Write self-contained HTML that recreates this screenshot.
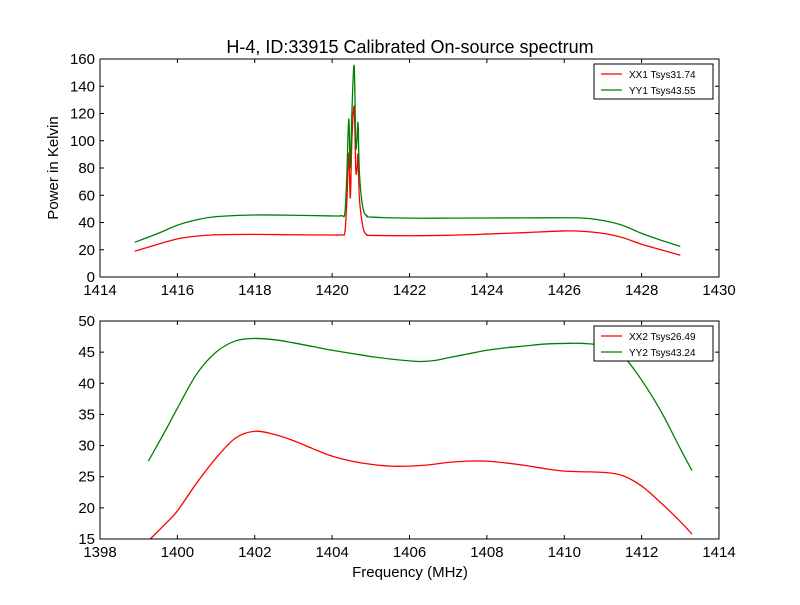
<!DOCTYPE html>
<html><head><meta charset="utf-8"><style>
body{margin:0;background:#fff}
svg{font-family:"Liberation Sans","DejaVu Sans",sans-serif}
</style></head><body>
<svg id="chart" width="800" height="600">
<rect width="800" height="600" fill="#fff"/>
<text x="410" y="53" font-size="18" text-anchor="middle">H-4, ID:33915 Calibrated On-source spectrum</text>
<text x="410" y="577" font-size="15" text-anchor="middle">Frequency (MHz)</text>
<text transform="translate(58,168) rotate(-90)" font-size="15" text-anchor="middle">Power in Kelvin</text>
<g id="top"></g>
<g id="bot"></g>
</svg>
<script>
const topXTicks=[1414,1416,1418,1420,1422,1424,1426,1428,1430];
const topYTicks=[0,20,40,60,80,100,120,140,160];
const botXTicks=[1398,1400,1402,1404,1406,1408,1410,1412,1414];
const botYTicks=[15,20,25,30,35,40,45,50];
const xx1Freq=[1414.9,1415.5,1416,1416.5,1417,1418,1419,1420,1420.25,1420.33,1420.38,1420.43,1420.47,1420.51,1420.57,1420.61,1420.64,1420.67,1420.7,1420.75,1420.82,1420.9,1421,1422,1423,1424,1425,1426,1426.5,1427,1427.5,1428,1428.5,1429];
const xx1Vals=[19,24,28,30,31,31.3,31,30.8,31,33,55,91,58,100,125,80,78,90,60,45,34,31,30.5,30.3,30.6,31.5,32.6,33.8,33.5,32,29,24,20,16];
const yy1Freq=[1414.9,1415.5,1416,1416.5,1417,1418,1419,1420,1420.25,1420.33,1420.38,1420.43,1420.47,1420.51,1420.57,1420.61,1420.64,1420.67,1420.7,1420.75,1420.82,1420.9,1421,1422,1423,1424,1425,1426,1426.5,1427,1427.5,1428,1428.5,1429];
const yy1Vals=[25.5,32,38,42,44.3,45.5,45.3,44.8,45,47,75,116,80,120,155,98,100,113,80,60,48,45,44,43.2,43.2,43.3,43.4,43.5,43.2,41.5,38,32,27,22.5];
const xx2Freq=[1399.3,1399.7,1400,1400.5,1401,1401.5,1402,1402.5,1403,1403.5,1404,1404.5,1405,1405.5,1406,1406.5,1407,1407.5,1408,1408.5,1409,1409.5,1410,1410.5,1411,1411.5,1412,1412.5,1413,1413.3];
const xx2Vals=[15,17.5,19.5,24,28,31.2,32.3,31.8,30.8,29.5,28.3,27.5,27,26.7,26.7,26.9,27.3,27.5,27.5,27.2,26.8,26.3,25.9,25.8,25.7,25.2,23.5,20.8,17.8,15.8];
const yy2Freq=[1399.25,1399.7,1400,1400.5,1401,1401.5,1402,1402.5,1403,1403.5,1404,1404.5,1405,1405.5,1406,1406.3,1406.7,1407,1407.5,1408,1408.5,1409,1409.5,1410,1410.5,1411,1411.5,1412,1412.5,1413,1413.3];
const yy2Vals=[27.5,32.5,36,41.5,45,46.8,47.2,47,46.5,45.9,45.3,44.8,44.3,43.9,43.6,43.5,43.7,44.1,44.7,45.3,45.7,46,46.3,46.4,46.4,46,44.5,40.5,35.5,29.5,26];
const NS='http://www.w3.org/2000/svg';
function mk(tag,attrs,parent,text){const e=document.createElementNS(NS,tag);for(const k in attrs)e.setAttribute(k,attrs[k]);if(text!==undefined)e.textContent=text;parent.appendChild(e);return e;}
function smooth(pts){
  let d='M'+pts[0][0].toFixed(2)+','+pts[0][1].toFixed(2);
  for(let i=0;i<pts.length-1;i++){
    const p0=pts[Math.max(0,i-1)],p1=pts[i],p2=pts[i+1],p3=pts[Math.min(pts.length-1,i+2)];
    const c1=[p1[0]+(p2[0]-p0[0])/6,p1[1]+(p2[1]-p0[1])/6];
    const c2=[p2[0]-(p3[0]-p1[0])/6,p2[1]-(p3[1]-p1[1])/6];
    d+=' C'+c1.map(v=>v.toFixed(2)).join(',')+' '+c2.map(v=>v.toFixed(2)).join(',')+' '+p2.map(v=>v.toFixed(2)).join(',');
  }
  return d;
}
function panel(g,top,x0,x1,y0,y1,xt,yt,series,legend,lx,ly){
  const L=100,R=719,B=top+218;
  const sx=v=>L+(v-x0)/(x1-x0)*(R-L), sy=v=>B-(v-y0)/(y1-y0)*(B-top);
  series.forEach(s=>{
    const pts=s.f.map((f,i)=>[sx(f),sy(s.v[i])]);
    const pl=mk('path',{d:smooth(pts),fill:'none',stroke:s.c,'stroke-width':1.3,'stroke-linejoin':'round'},g);
    
    
  });
  const fr=mk('rect',{x:L,y:top,width:R-L,height:B-top,fill:'none',stroke:'#000','stroke-width':1},g);
  
  
  xt.forEach(t=>{const x=sx(t);
    mk('line',{x1:x,x2:x,y1:B,y2:B-4,stroke:'#000'},g);mk('line',{x1:x,x2:x,y1:top,y2:top+4,stroke:'#000'},g);
    const tx=mk('text',{x:x,y:B+18,'font-size':15,'text-anchor':'middle'},g,t);
    
    });
  yt.forEach(t=>{const y=sy(t);
    mk('line',{x1:L,x2:L+4,y1:y,y2:y,stroke:'#000'},g);mk('line',{x1:R,x2:R-4,y1:y,y2:y,stroke:'#000'},g);
    const tx=mk('text',{x:L-5,y:y+5,'font-size':15,'text-anchor':'end'},g,t);
    
    });
  const lg=mk('g',{},g);
  
  
  mk('rect',{x:lx,y:ly,width:119,height:35,fill:'#fff',stroke:'#000'},lg);
  legend.forEach((l,i)=>{const y=ly+10+i*16;
    mk('line',{x1:lx+7,x2:lx+28,y1:y,y2:y,stroke:l.c,'stroke-width':1.3},lg);
    const tx=mk('text',{x:lx+35,y:y+4,'font-size':10},lg,l.t);
    
    });
}
panel(document.getElementById('top'),59,1414,1430,0,160,topXTicks,topYTicks,
 [{f:xx1Freq,v:xx1Vals,c:'#ff0000',name:'xx1'},{f:yy1Freq,v:yy1Vals,c:'#008000',name:'yy1'}],
 [{c:'#ff0000',t:'XX1 Tsys31.74'},{c:'#008000',t:'YY1 Tsys43.55'}],594,64);
panel(document.getElementById('bot'),321,1398,1414,15,50,botXTicks,botYTicks,
 [{f:xx2Freq,v:xx2Vals,c:'#ff0000',name:'xx2'},{f:yy2Freq,v:yy2Vals,c:'#008000',name:'yy2'}],
 [{c:'#ff0000',t:'XX2 Tsys26.49'},{c:'#008000',t:'YY2 Tsys43.24'}],594,326);
</script>
</body></html>
